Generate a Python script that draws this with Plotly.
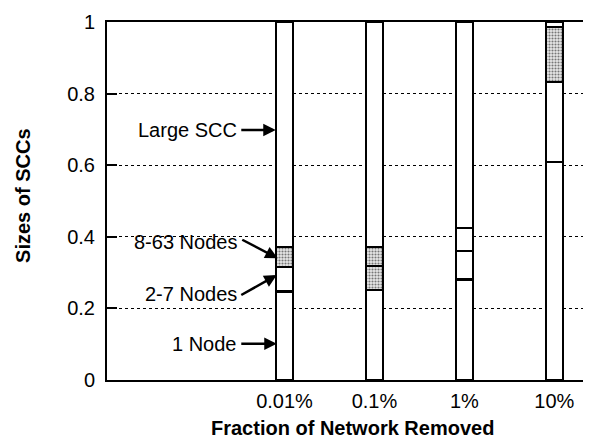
"""Sizes of SCCs vs fraction of network removed — stacked bars."""

import plotly.graph_objects as go

FONT = "Liberation Sans, Arial, Helvetica, sans-serif"

x_pos = [1, 2, 3, 4]
x_labels = ["0.01%", "0.1%", "1%", "10%"]

one_node = [0.247, 0.252, 0.281, 0.609]
two_seven = [0.068, 0.067, 0.079, 0.224]
eight_63 = [0.056, 0.053, 0.064, 0.153]
large_scc = [0.629, 0.628, 0.576, 0.014]

# which segments are stippled in the original scan
two_seven_shape = ["", ".", "", ""]
eight_63_shape = [".", ".", "", "."]

series = [
    ("1 Node", one_node, ["", "", "", ""]),
    ("2-7 Nodes", two_seven, two_seven_shape),
    ("8-63 Nodes", eight_63, eight_63_shape),
    ("Large SCC", large_scc, ["", "", "", ""]),
]

fig = go.Figure()
for name, vals, shapes in series:
    fig.add_trace(go.Bar(
        x=x_pos, y=vals, name=name, width=0.195,
        marker=dict(
            color="white",
            line=dict(color="black", width=2.2),
            pattern=dict(shape=shapes, fgcolor="#777", bgcolor="#e8e8e8",
                         size=3, solidity=0.4, fillmode="replace"),
        ),
        showlegend=False, hoverinfo="skip",
    ))

# labels with arrows pointing at the first bar
labels = [
    ("Large SCC", 0.698, 0.503, 0.698, 0.903, 0.698),
    ("8-63 Nodes", 0.386, 0.514, 0.394, 0.925, 0.340),
    ("2-7 Nodes", 0.240, 0.503, 0.235, 0.914, 0.293),
    ("1 Node", 0.101, 0.503, 0.101, 0.914, 0.101),
]
for text, ty, ax, ay, hx, hy in labels:
    fig.add_annotation(x=0.49, y=ty, text=text, showarrow=False, xanchor="right",
                       font=dict(family=FONT, size=20, color="black"))
    fig.add_annotation(x=hx, y=hy, ax=ax, ay=ay, axref="x", ayref="y", text="",
                       showarrow=True, arrowhead=2, arrowsize=1, arrowwidth=2.5,
                       arrowcolor="black")

fig.add_annotation(text="<b>Sizes of SCCs</b>", xref="paper", yref="paper",
                   x=-0.1708, y=0.514, xanchor="center", yanchor="middle",
                   textangle=-90, showarrow=False,
                   font=dict(family=FONT, size=20, color="black"))
fig.add_annotation(text="<b>Fraction of Network Removed</b>", xref="paper", yref="paper",
                   x=0.498, y=-0.134, xanchor="center", yanchor="middle", showarrow=False,
                   font=dict(family=FONT, size=20, color="black"))

# page body has an 8px margin, so the plot box is laid out 8px up/left
fig.update_layout(
    barmode="stack",
    width=591, height=439,
    margin=dict(l=99.3, r=0, t=13.7, b=66.8, autoexpand=False),
    plot_bgcolor="white", paper_bgcolor="white",
    font=dict(family=FONT, size=20, color="black"),
    xaxis=dict(
        range=[-0.973, 4.496], tickvals=x_pos, ticktext=x_labels,
        showgrid=False, zeroline=False, showline=True, linecolor="black",
        linewidth=2, mirror=True, ticks="", ticklabelstandoff=2,
        automargin=False,
    ),
    yaxis=dict(
        range=[0, 1], tickvals=[0, 0.2, 0.4, 0.6, 0.8, 1],
        ticktext=["0", "0.2", "0.4", "0.6", "0.8", "1"],
        showgrid=True, gridcolor="black", griddash="dot", gridwidth=1,
        zeroline=False, showline=True, linecolor="black", linewidth=2,
        ticks="inside", ticklen=10, tickwidth=1.5, tickcolor="black",
        ticklabelstandoff=6, automargin=False,
    ),
)

fig.write_html("out.html")
